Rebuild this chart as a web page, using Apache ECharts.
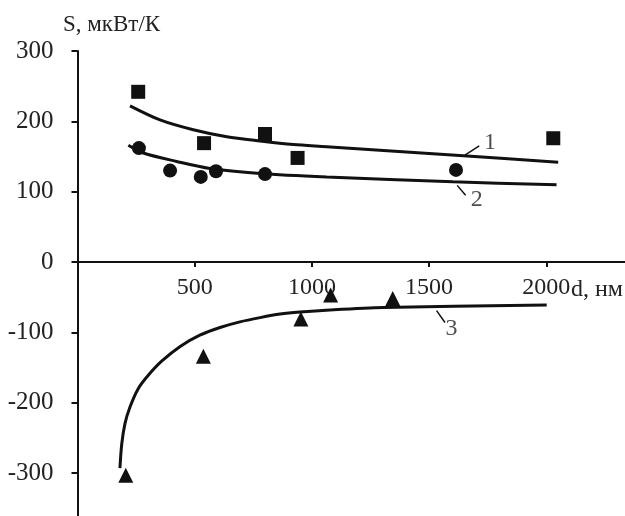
<!DOCTYPE html>
<html>
<head>
<meta charset="utf-8">
<script src="https://cdn.jsdelivr.net/npm/echarts@6/dist/echarts.min.js"></script>
<style>
  html, body { margin: 0; padding: 0; background: #fff; }
  #chart { width: 625px; height: 516px; }
</style>
</head>
<body>
<div id="chart"></div>
<script>
// точки эксперимента (d, нм ; S, мкВт/К)
const squares = [[259, 242], [540, 169], [800, 182], [939, 148], [2030, 176]];
const circles = [[262, 162], [395, 130], [526, 121], [591, 129], [800, 125], [1615, 131]];
const triangles = [[206, -303], [537, -134], [953, -81], [1080, -47], [1345, -52]];

// линии аппроксимации
const curve1 = [[224, 222], [352, 202], [494, 188], [637, 178], [779, 172], [921, 167],
  [1063, 164], [1646, 151], [2051, 142]];
const curve2 = [[217, 166], [281, 155], [423, 143], [565, 133], [779, 126], [1063, 121],
  [1602, 114], [2044, 110]];
const curve3 = [[181, -293], [189, -258], [203, -229], [224, -206], [259, -180], [302, -161],
  [359, -141], [438, -120], [522, -104], [608, -93], [693, -85], [779, -79], [864, -74],
  [949, -71], [1077, -68], [1305, -64.5], [2002, -61]];

const xTicks = [500, 1000, 1500, 2000];
const yTicks = [-300, -200, -100, 0, 100, 200, 300];

// подписи кривых: текст, положение, выноска
const curveLabels = [
  { text: '1', at: [1760, 170], from: [1653, 152], to: [1714, 165] },
  { text: '2', at: [1703, 89], from: [1620, 109], to: [1656, 95] },
  { text: '3', at: [1596, -95], from: [1532, -69], to: [1568, -86] }
];

const ink = '#111';
const font = '"Liberation Serif", "Times New Roman", serif';
const yMin = -361, yMax = 300;
const gridTop = 51, chartH = 516;

const chart = echarts.init(document.getElementById('chart'));

// ось X проходит через ноль: сдвиг от нижнего края сетки
const zeroOffset = -(chartH - gridTop) * (0 - yMin) / (yMax - yMin);

const lineSeries = (data) => ({
  type: 'line', data: data, smooth: 0.3, showSymbol: false, symbol: 'none',
  lineStyle: { color: ink, width: 3 }, z: 3, silent: true
});
const dotSeries = (data, symbol, size) => ({
  type: 'scatter', data: data, symbol: symbol, symbolSize: size,
  itemStyle: { color: ink, opacity: 1 }, z: 4, silent: true
});

chart.setOption({
  animation: false,
  grid: { left: 77.5, right: 0, top: gridTop, bottom: 0, containLabel: false, outerBoundsMode: 'none' },
  xAxis: {
    type: 'value', min: 0, max: 2336, offset: zeroOffset,
    axisLine: { onZero: false, lineStyle: { color: ink, width: 2 } },
    axisTick: { customValues: xTicks, length: 5, lineStyle: { color: ink, width: 2 } },
    axisLabel: {
      customValues: xTicks, margin: 14, color: '#222', fontSize: 24, fontFamily: font,
      formatter: v => String(v)
    },
    splitLine: { show: false }
  },
  yAxis: {
    type: 'value', min: yMin, max: yMax,
    axisLine: { show: true, lineStyle: { color: ink, width: 2 } },
    axisTick: { show: true, customValues: yTicks, length: 6, lineStyle: { color: ink, width: 2 } },
    axisLabel: {
      customValues: yTicks, margin: 24, color: '#222', fontSize: 25, fontFamily: font,
      formatter: v => String(v)
    },
    splitLine: { show: false }
  },
  series: [
    lineSeries(curve1),
    lineSeries(curve2),
    lineSeries(curve3),
    dotSeries(squares, 'rect', 14),
    dotSeries(circles, 'circle', 14),
    dotSeries(triangles, 'triangle', 15),
    {
      type: 'lines', coordinateSystem: 'cartesian2d', silent: true,
      lineStyle: { color: ink, width: 1.5, opacity: 1 },
      data: curveLabels.map(l => ({ coords: [l.from, l.to] }))
    },
    {
      type: 'scatter', symbolSize: 0, silent: true,
      data: curveLabels.map(l => ({ value: l.at, name: l.text })),
      label: {
        show: true, position: 'inside', formatter: '{b}',
        color: '#222', fontSize: 24, fontFamily: font
      }
    }
  ],
  graphic: [
    { type: 'text', left: 63, top: 13,
      style: { text: 'S, мкВт/К', fill: '#222', font: '23px ' + font } },
    { type: 'text', left: 571, top: 278,
      style: { text: 'd, нм', fill: '#222', font: '24px ' + font } }
  ]
});
</script>
</body>
</html>
